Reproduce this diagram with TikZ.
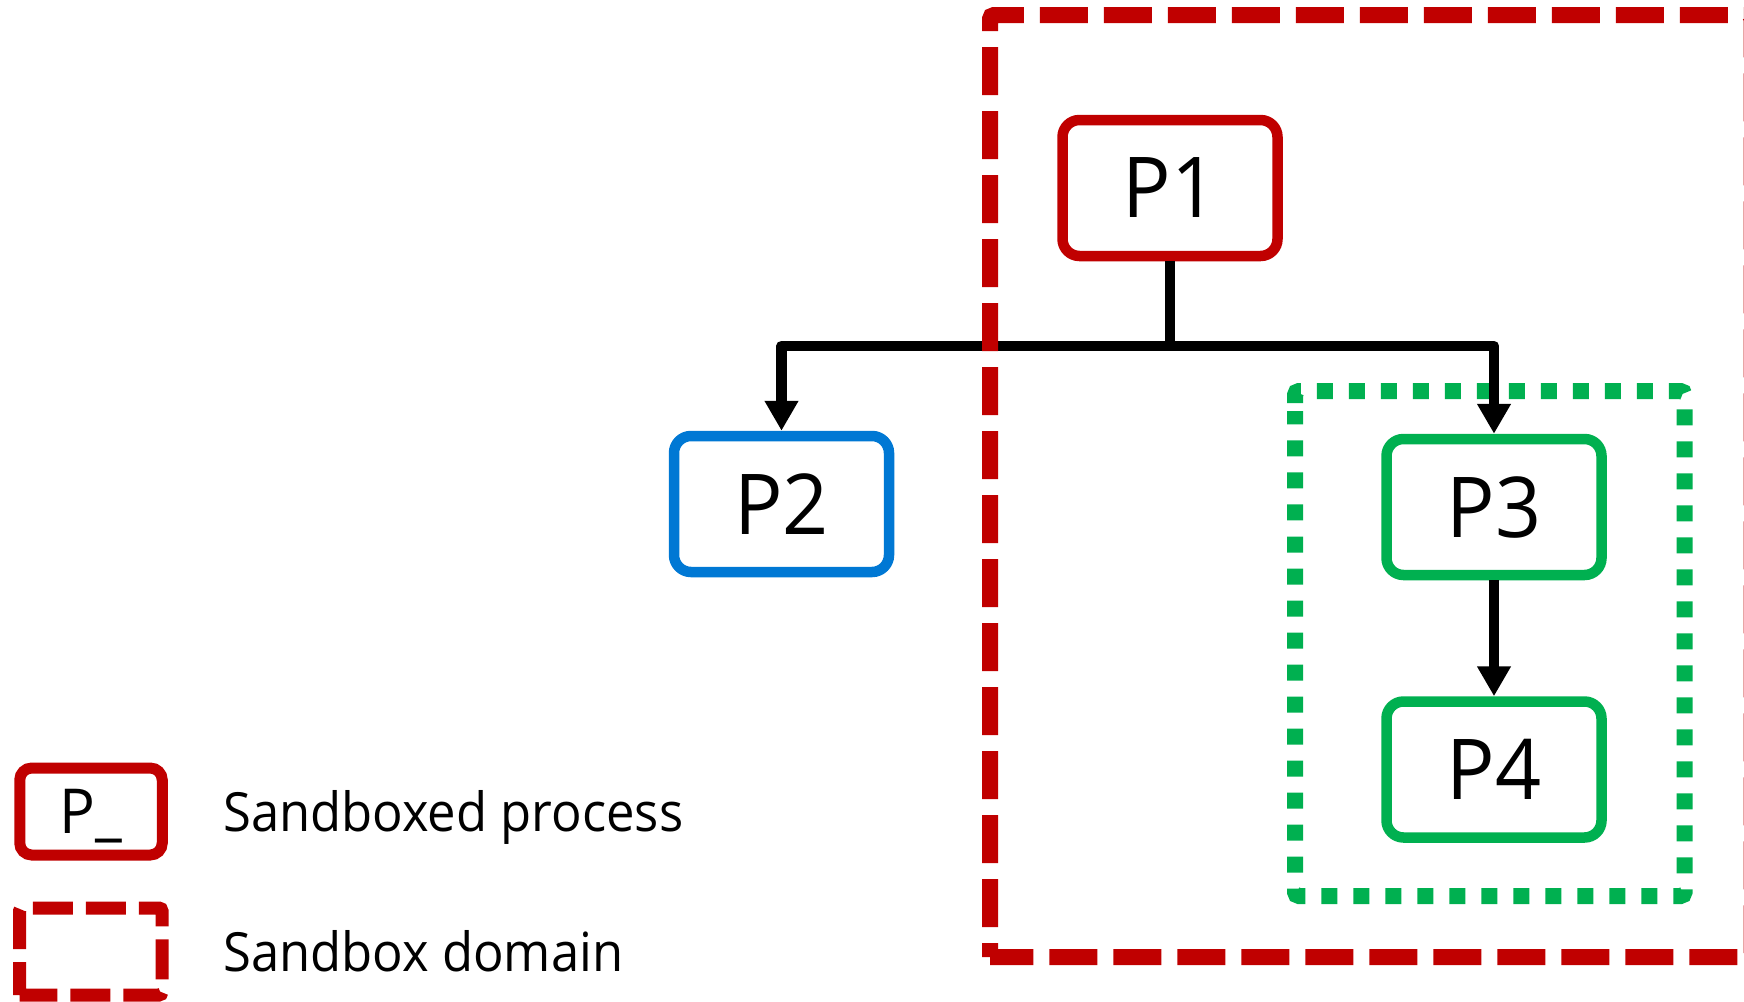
\documentclass[tikz,border=0pt]{standalone}
\usepackage{fontspec}
\setmainfont{Open Sans}[FakeStretch=0.96]
\newfontfamily\legendfont{Open Sans}[FakeStretch=0.94]
\usetikzlibrary{arrows.meta}
\definecolor{sbred}{RGB}{192,0,0}
\definecolor{sbblue}{RGB}{0,120,212}
\definecolor{sbgreen}{RGB}{0,176,80}
\begin{document}
\begin{tikzpicture}[x=1pt,y=-1pt,
  proc/.style={draw, line width=10.5pt, rounded corners=17pt,
    minimum width=215pt, minimum height=136pt, inner sep=0pt,
    fill=white, text depth=0pt, font=\fontsize{84}{100}\selectfont},
  bus/.style={line width=10.7pt, line join=round},
  link/.style={bus, -{Triangle[length=30pt,width=32pt]}},
  domainbox/.style={draw=sbred, line width=16pt, dash pattern=on 48pt off 16pt,
    rounded corners=4pt},
  groupbox/.style={draw=sbgreen, line width=16pt, dash pattern=on 16pt off 16pt,
    rounded corners=4pt},
  legendtext/.style={anchor=base west, inner sep=0pt,
    font=\legendfont\fontsize{54}{64}\selectfont}]

% canvas
\fill[white] (0,0) rectangle (1744,1001);
\useasboundingbox (0,0) rectangle (1744,1001);

% group around P3 and P4
\draw[groupbox, dash phase=24pt]
  (1295,411) -- (1295,391) -- (1684.5,391) -- (1684.5,896) -- (1295,896) -- (1295,411);

% processes
\node[proc, draw=sbred]   (P1) at (1170,188)   {P1};
\node[proc, draw=sbblue]  (P2) at (781.5,504)  {P2};
\node[proc, draw=sbgreen] (P3) at (1494,507)   {P3};
\node[proc, draw=sbgreen] (P4) at (1494,769.5) {P4};

% process tree
\coordinate (fork) at (1170,346);
\draw[bus]  (P1.south) -- (fork);
\draw[link] (fork) -| (P2.north);
\draw[link] (fork) -| (P3.north);
\draw[link] (P3.south) -- (P4.north);

% sandbox domain
\draw[domainbox, dash phase=34pt]
  (990,957) -- (990,15) -- (1751.5,15) -- (1751.5,957) -- (990,957);

% legend
\node[draw=sbred, line width=11pt, rounded corners=12pt,
  minimum width=142.5pt, minimum height=87pt, inner sep=0pt, text depth=0pt,
  font=\fontsize{62}{70}\selectfont] (lgproc) at (91,811.5) {P\_};
\draw[sbred, line width=13pt, dash pattern=on 40pt off 13pt, dash phase=7pt,
  rounded corners=3pt]
  (19.5,995) -- (19.5,908) -- (162,908) -- (162,995) -- (19.5,995);
\node[legendtext] (lgproctext) at (223,831) {Sandboxed process};
\node[legendtext] (lgdomtext)  at (223,971) {Sandbox domain};
\end{tikzpicture}
\end{document}
